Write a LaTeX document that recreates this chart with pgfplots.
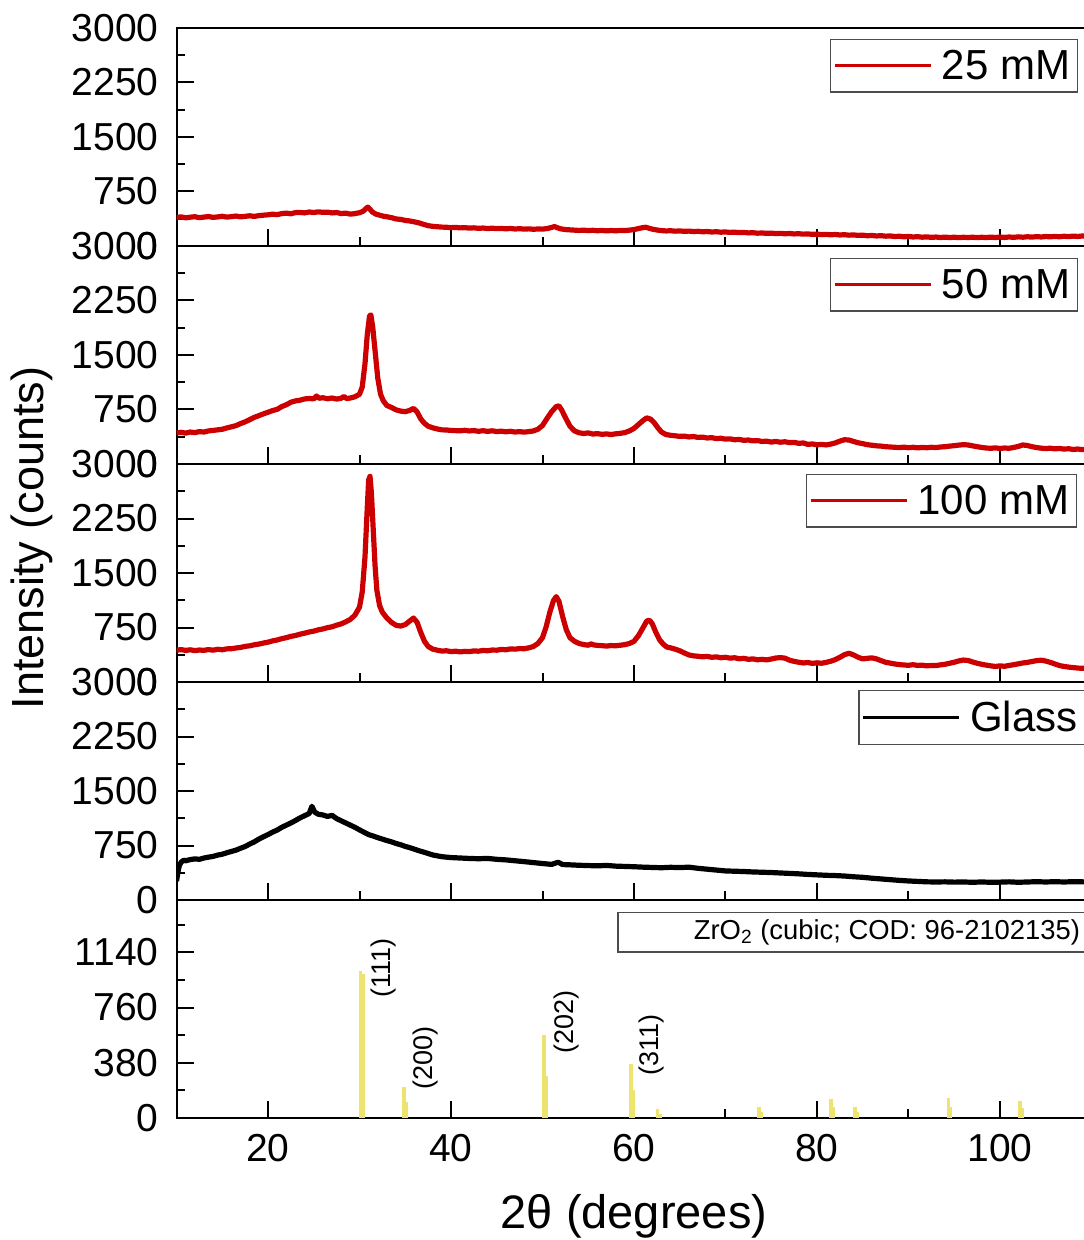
\documentclass[border=0pt]{standalone}
\usepackage{fontspec}
\setmainfont{Liberation Sans}
\usepackage{pgfplots}
\usepackage{pgfplotstable}
\pgfplotsset{compat=1.18}
\definecolor{xred}{RGB}{204,0,0}
\definecolor{stick}{RGB}{236,228,110}

\pgfplotstableread{
x y
10.0 392
10.5 401
11.0 388
11.5 396
12.0 403
12.5 390
13.0 398
13.5 405
14.0 394
14.5 400
15.0 409
15.5 397
16.0 404
16.5 412
17.0 401
17.5 408
18.0 416
18.5 407
19.0 418
19.5 424
20.0 429
20.5 438
21.0 431
21.5 446
22.0 452
22.5 444
23.0 459
23.5 462
24.0 455
24.5 468
25.0 461
25.5 470
26.0 463
26.5 466
27.0 455
27.5 460
28.0 447
28.5 452
29.0 438
29.5 446
30.0 458
30.4 478
30.7 515
30.9 535
31.1 512
31.4 468
31.8 438
32.2 424
32.6 410
33.0 402
33.5 390
34.0 372
34.5 366
35.0 352
35.5 344
36.0 332
36.5 318
37.0 298
37.5 280
38.0 270
38.5 265
39.0 260
39.5 258
40.0 252
40.5 256
41.0 249
41.5 253
42.0 246
42.5 250
43.0 243
43.5 247
44.0 240
44.5 245
45.0 239
45.5 242
46.0 236
46.5 241
47.0 234
47.5 238
48.0 232
48.5 236
49.0 230
49.5 234
50.0 232
50.5 240
51.0 255
51.3 268
51.6 252
52.0 236
52.5 226
53.0 222
53.5 218
54.0 214
54.5 218
55.0 212
55.5 216
56.0 210
56.5 214
57.0 208
57.5 213
58.0 209
58.5 214
59.0 212
59.5 218
60.0 226
60.5 240
61.0 254
61.3 258
61.6 246
62.0 232
62.5 220
63.0 212
63.5 207
64.0 210
64.5 204
65.0 207
65.5 202
66.0 205
66.5 199
67.0 202
67.5 196
68.0 199
68.5 193
69.0 196
69.5 190
70.0 193
70.5 187
71.0 190
71.5 184
72.0 187
72.5 180
73.0 183
73.5 176
74.0 179
74.5 174
75.0 177
75.5 171
76.0 174
76.5 168
77.0 172
77.5 166
78.0 169
78.5 163
79.0 166
79.5 160
80.0 163
80.5 157
81.0 160
81.5 154
82.0 158
82.5 152
83.0 155
83.5 149
84.0 152
84.5 146
85.0 149
85.5 141
86.0 145
86.5 138
87.0 142
87.5 135
88.0 138
88.5 131
89.0 134
89.5 127
90.0 131
90.5 124
91.0 128
91.5 121
92.0 125
92.5 119
93.0 123
93.5 117
94.0 122
94.5 116
95.0 121
95.5 115
96.0 120
96.5 116
97.0 121
97.5 115
98.0 120
98.5 116
99.0 122
99.5 117
100.0 123
100.5 118
101.0 124
101.5 119
102.0 126
102.5 121
103.0 127
103.5 122
104.0 129
104.5 124
105.0 130
105.5 126
106.0 132
106.5 127
107.0 134
107.5 129
108.0 136
108.5 131
109.0 138
109.5 134
}\dataA

\pgfplotstableread{
x y
10.0 428
10.5 436
11.0 425
11.5 440
12.0 432
12.5 446
13.0 440
13.5 455
14.0 462
14.5 470
15.0 478
15.5 496
16.0 512
16.5 528
17.0 556
17.5 580
18.0 610
18.5 642
19.0 665
19.5 690
20.0 712
20.5 735
21.0 752
21.5 790
22.0 815
22.5 850
23.0 868
23.5 878
24.0 895
24.5 902
25.0 896
25.3 935
25.6 905
26.0 912
26.5 898
27.0 908
27.5 894
28.0 905
28.3 930
28.6 900
29.0 908
29.5 925
30.0 960
30.3 1060
30.6 1380
30.85 1780
31.1 2040
31.25 2050
31.45 1880
31.7 1560
32.0 1180
32.3 960
32.6 870
33.0 805
33.5 778
34.0 745
34.5 728
35.0 720
35.5 738
35.9 765
36.3 715
36.7 620
37.1 560
37.5 520
38.0 498
38.5 482
39.0 470
39.5 468
40.0 462
41.0 456
41.5 464
42.0 455
42.5 460
43.0 450
43.5 458
44.0 449
44.5 457
45.0 446
45.5 452
46.0 443
46.5 450
47.0 440
47.5 446
48.0 438
48.5 446
49.0 455
49.5 478
50.0 530
50.5 628
51.0 720
51.5 790
51.8 800
52.1 742
52.5 640
53.0 520
53.5 455
54.0 430
54.5 420
55.0 428
55.5 412
56.0 418
56.5 408
57.0 414
57.5 406
58.0 415
58.5 422
59.0 432
59.5 455
60.0 490
60.5 545
61.0 600
61.4 635
61.8 618
62.2 570
62.6 500
63.0 440
63.5 405
64.0 395
64.5 388
65.0 380
65.5 384
66.0 372
66.5 378
67.0 366
67.5 370
68.0 358
68.5 362
69.0 350
69.5 354
70.0 342
70.5 346
71.0 334
71.5 338
72.0 326
72.5 330
73.0 318
73.5 322
74.0 310
74.5 314
75.0 302
75.5 310
76.0 300
76.5 306
77.0 294
77.5 298
78.0 284
78.5 290
79.0 270
79.5 276
80.0 264
80.5 270
81.0 262
81.5 274
82.0 290
82.5 315
83.0 334
83.5 330
84.0 310
84.5 292
85.0 280
85.5 266
86.0 258
86.5 250
87.0 246
87.5 238
88.0 234
88.5 230
89.0 226
89.5 232
90.0 224
90.5 230
91.0 222
91.5 228
92.0 224
92.5 230
93.0 226
93.5 234
94.0 238
94.5 246
95.0 252
95.5 260
96.0 266
96.5 262
97.0 250
97.5 238
98.0 228
98.5 220
99.0 216
99.5 222
100.0 214
100.5 220
101.0 216
101.5 228
102.0 242
102.5 262
103.0 254
103.5 238
104.0 226
104.5 218
105.0 212
105.5 218
106.0 208
106.5 214
107.0 205
107.5 210
108.0 200
108.5 206
109.0 198
109.5 202
}\dataB

\pgfplotstableread{
x y
10.0 438
10.5 446
11.0 435
11.5 443
12.0 432
12.5 440
13.0 436
13.5 446
14.0 438
14.5 450
15.0 444
15.5 456
16.0 458
16.5 468
17.0 476
17.5 490
18.0 498
18.5 512
19.0 522
19.5 536
20.0 548
20.5 566
21.0 578
21.5 596
22.0 610
22.5 628
23.0 640
23.5 658
24.0 672
24.5 688
25.0 700
25.5 718
26.0 730
26.5 748
27.0 760
27.5 782
28.0 800
28.5 828
29.0 862
29.5 920
30.0 1030
30.3 1240
30.6 1720
30.85 2400
31.0 2780
31.15 2830
31.3 2600
31.5 2100
31.7 1600
31.9 1260
32.2 1050
32.5 960
33.0 880
33.5 820
34.0 780
34.5 770
35.0 790
35.5 840
35.9 880
36.3 820
36.7 680
37.1 560
37.5 490
38.0 452
38.5 438
39.0 425
39.5 430
40.0 418
40.5 424
41.0 414
41.5 422
42.0 418
42.5 428
43.0 424
43.5 434
44.0 430
44.5 440
45.0 438
45.5 448
46.0 444
46.5 455
47.0 452
47.5 460
48.0 458
48.5 470
49.0 488
49.5 530
50.0 610
50.4 760
50.8 960
51.2 1120
51.5 1175
51.8 1110
52.2 900
52.6 720
53.0 610
53.5 560
54.0 530
54.5 515
55.0 506
55.3 525
55.6 510
56.0 504
56.5 500
57.0 494
57.5 502
58.0 498
58.5 506
59.0 514
59.5 530
60.0 560
60.5 640
61.0 750
61.4 840
61.7 850
62.0 800
62.4 680
62.8 580
63.2 520
63.6 480
64.0 470
64.5 452
65.0 430
65.5 400
66.0 372
66.5 360
67.0 354
67.5 346
68.0 352
68.5 340
69.0 346
69.5 334
70.0 340
70.5 328
71.0 334
71.5 320
72.0 326
72.5 312
73.0 318
73.5 306
74.0 312
74.5 304
75.0 316
75.5 330
76.0 336
76.5 328
77.0 300
77.5 284
78.0 272
78.5 262
79.0 268
79.5 256
80.0 264
80.5 258
81.0 270
81.5 286
82.0 308
82.5 340
83.0 376
83.5 396
84.0 372
84.5 340
85.0 318
85.5 326
86.0 332
86.5 318
87.0 294
87.5 272
88.0 260
88.5 248
89.0 240
89.5 234
90.0 230
90.5 238
91.0 228
91.5 232
92.0 222
92.5 228
93.0 226
93.5 236
94.0 244
94.5 258
95.0 272
95.5 290
96.0 302
96.5 296
97.0 276
97.5 258
98.0 244
98.5 232
99.0 222
99.5 214
100.0 222
100.5 216
101.0 228
101.5 238
102.0 250
102.5 262
103.0 270
103.5 282
104.0 294
104.5 300
105.0 288
105.5 270
106.0 248
106.5 226
107.0 214
107.5 205
108.0 198
108.5 192
109.0 188
109.5 192
}\dataC

\pgfplotstableread{
x y
10.0 260
10.15 380
10.3 470
10.5 520
10.8 548
11.0 540
11.5 556
12.0 566
12.5 560
13.0 578
13.5 590
14.0 600
14.5 618
15.0 630
15.5 650
16.0 668
16.5 686
17.0 712
17.5 736
18.0 770
18.5 800
19.0 838
19.5 870
20.0 900
20.5 934
21.0 962
21.5 1000
22.0 1030
22.5 1060
23.0 1094
23.5 1130
24.0 1160
24.5 1190
24.8 1290
25.1 1210
25.5 1180
26.0 1170
26.5 1150
27.0 1165
27.5 1120
28.0 1090
28.5 1060
29.0 1030
29.5 1000
30.0 965
30.5 932
31.0 900
31.5 880
32.0 858
32.5 838
33.0 818
33.5 800
34.0 778
34.5 760
35.0 738
35.5 720
36.0 700
36.5 678
37.0 660
37.5 640
38.0 620
38.5 608
39.0 596
39.5 590
40.0 584
41.0 578
42.0 572
43.0 568
44.0 572
45.0 560
46.0 552
47.0 540
48.0 528
49.0 515
50.0 502
51.0 490
51.7 520
52.2 488
53.0 484
54.0 478
55.0 474
56.0 470
57.0 476
58.0 466
59.0 462
60.0 458
61.0 452
62.0 448
63.0 444
64.0 450
65.0 446
66.0 452
67.0 436
68.0 424
69.0 412
70.0 400
71.0 396
72.0 392
73.0 386
74.0 382
75.0 378
76.0 372
77.0 366
78.0 360
79.0 352
80.0 346
81.0 340
82.0 336
83.0 330
84.0 320
85.0 312
86.0 300
87.0 290
88.0 280
89.0 270
90.0 262
91.0 256
92.0 250
93.0 248
94.0 250
95.0 246
96.0 248
97.0 244
98.0 248
99.0 244
100.0 246
101.0 250
102.0 244
103.0 248
104.0 252
105.0 248
106.0 252
107.0 248
108.0 252
109.0 250
109.5 248
}\dataG

\pgfplotsset{
  panel/.style={
    scale only axis, width=455.2pt, height=109pt,
    xmin=10, xmax=109.5, ymin=0,
    xtick={20,40,60,80,100}, minor xtick={30,50,70,90},
    tick align=inside, xtick pos=left, ytick pos=left,
    major tick length=8.5pt, minor tick length=4.3pt,
    axis line style={line width=1pt},
    every tick/.style={black, line width=1pt},
    tick label style={font=\fontsize{19.5}{23}\selectfont},
    /pgf/number format/assume math mode=true,
    /pgf/number format/1000 sep={},
    yticklabel style={xshift=-5.5pt},
    xticklabel style={yshift=-4.5pt},
    legend style={draw=black!70, line width=0.7pt, font=\fontsize{21}{25}\selectfont,
      inner xsep=1.5pt, inner ysep=3pt},
    legend image code/.code={\draw[##1, line width=1.6pt] (0pt,0pt) -- (48pt,0pt); \path (50pt,0pt);},
    upper/.style={ymax=3000, ytick={0,750,1500,2250,3000},
      minor ytick={375,1125,1875,2625}, xticklabels={}},
  }
}

\begin{document}
\begin{tikzpicture}
% 25 mM
\begin{axis}[panel, upper, at={(88.25pt,-14pt)}, anchor=north west,
  legend style={at={(0.9902,0.9495)}, anchor=north east}]
\addplot[xred, line width=2.6pt, line join=round] table[x=x,y=y] {\dataA};
\addlegendentry{25 mM}
\end{axis}
% 50 mM
\begin{axis}[panel, upper, at={(88.25pt,-123pt)}, anchor=north west,
  legend style={at={(0.9902,0.945)}, anchor=north east}]
\addplot[xred, line width=2.6pt, line join=round] table[x=x,y=y] {\dataB};
\addlegendentry{50 mM}
\end{axis}
% 100 mM
\begin{axis}[panel, upper, at={(88.25pt,-232pt)}, anchor=north west,
  legend style={at={(0.9891,0.954)}, anchor=north east}]
\addplot[xred, line width=2.6pt, line join=round] table[x=x,y=y] {\dataC};
\addlegendentry{100 mM}
\end{axis}
% Glass
\begin{axis}[panel, upper, at={(88.25pt,-341pt)}, anchor=north west,
  legend style={at={(0.998,0.963)}, anchor=north east}]
\addplot[black, line width=2.6pt, line join=round] table[x=x,y=y] {\dataG};
\addlegendentry{Glass}
\end{axis}
% ZrO2 reference
\begin{axis}[panel, at={(88.25pt,-450pt)}, anchor=north west,
  ymax=1500, ytick={0,380,760,1140}, minor ytick={190,570,950,1330}]
\addplot[ycomb, stick, line width=1.8pt, mark=none] coordinates {
(30.13,1012) (34.87,212) (50.16,571) (59.64,373) (62.59,60)
(73.66,78) (81.50,133) (84.15,78) (94.35,140) (102.20,116)};
\addplot[ycomb, stick, line width=1.8pt, mark=none] coordinates {
(30.35,990) (35.09,110) (50.38,288) (59.86,190) (62.81,30)
(73.88,40) (81.72,75) (84.37,40) (94.57,75) (102.42,70)};
\draw[black!70, line width=0.7pt] (axis cs:58.25,1416) rectangle (axis cs:109.5,1142);
\node[anchor=east, font=\fontsize{13.7}{16}\selectfont, inner sep=0pt] at (axis cs:108.8,1279) {ZrO\textsubscript{2} (cubic; COD: 96-2102135)};
\node[rotate=90, font=\fontsize{13.5}{16}\selectfont] at (axis cs:32.57,1032) {(111)};
\node[rotate=90, font=\fontsize{13.5}{16}\selectfont] at (axis cs:37.16,415) {(200)};
\node[rotate=90, font=\fontsize{13.5}{16}\selectfont] at (axis cs:52.57,662) {(202)};
\node[rotate=90, font=\fontsize{13.5}{16}\selectfont] at (axis cs:61.86,505) {(311)};
\end{axis}
\node[rotate=90, font=\fontsize{22.5}{26}\selectfont] at (16pt,-269pt) {Intensity (counts)};
\node[anchor=base, font=\fontsize{23.5}{27}\selectfont] at (317pt,-614pt) {2θ (degrees)};
\pgfresetboundingbox
\useasboundingbox (0pt,0pt) rectangle (541.5pt,-620pt);
\end{tikzpicture}
\end{document}
